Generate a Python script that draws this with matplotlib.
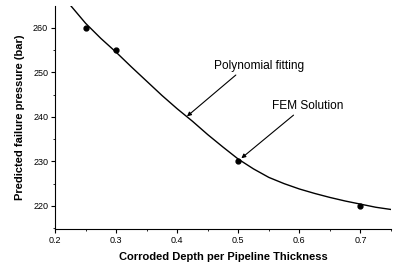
import matplotlib
matplotlib.use("Agg")
import matplotlib.pyplot as plt
from matplotlib.ticker import MultipleLocator

plt.rcParams['font.family'] = ['Liberation Sans', 'DejaVu Sans']

# FEM solution points
fem_depth = [0.25, 0.3, 0.5, 0.7]
fem_pressure = [260, 255, 230, 220]

# polynomial fitting curve
fit_depth = [0.226, 0.25, 0.275, 0.3, 0.325, 0.35, 0.375, 0.4, 0.425, 0.45, 0.475,
             0.5, 0.525, 0.55, 0.575, 0.6, 0.625, 0.65, 0.675, 0.7, 0.725, 0.75]
fit_pressure = [264.9, 261.0, 257.6, 254.5, 251.2, 248.0, 244.8, 241.8, 239.0, 236.0, 233.2,
                230.5, 228.3, 226.4, 225.0, 223.8, 222.8, 221.9, 221.1, 220.4, 219.7, 219.2]

xticks = [0.2, 0.3, 0.4, 0.5, 0.6, 0.7]
yticks = [220, 230, 240, 250, 260]

fig = plt.figure(figsize=(3.93, 2.67), dpi=100)
ax = fig.add_axes([0.140, 0.142, 0.855, 0.836])

ax.plot(fit_depth, fit_pressure, color='black', lw=1.0)
ax.plot(fem_depth, fem_pressure, 'o', color='black', ms=3.5)

ax.set_xlim(0.2, 0.75)
ax.set_ylim(214.8, 264.9)
ax.set_xticks(xticks)
ax.set_xticklabels([str(t) for t in xticks])
ax.set_yticks(yticks)
ax.xaxis.set_minor_locator(MultipleLocator(0.05))
ax.yaxis.set_minor_locator(MultipleLocator(5))
ax.tick_params(which='major', direction='out', length=3, width=0.8, labelsize=6.5, pad=2)
ax.tick_params(which='minor', direction='out', length=1.5, width=0.6)
ax.spines['top'].set_visible(False)
ax.spines['right'].set_visible(False)

ax.set_xlabel('Corroded Depth per Pipeline Thickness', fontsize=8, fontweight='bold', labelpad=5)
ax.set_ylabel('Predicted failure pressure (bar)', fontsize=8, fontweight='bold', labelpad=6)

ax.annotate('Polynomial fitting', xy=(0.416, 240.1), xytext=(0.46, 250.0),
            fontsize=8.6, ha='left', va='bottom',
            arrowprops=dict(arrowstyle='-|>', color='black', lw=0.8, mutation_scale=6,
                            shrinkA=0, shrinkB=0, relpos=(0.28, 0)))
ax.annotate('FEM Solution', xy=(0.505, 230.7), xytext=(0.555, 241.0),
            fontsize=8.6, ha='left', va='bottom',
            arrowprops=dict(arrowstyle='-|>', color='black', lw=0.8, mutation_scale=6,
                            shrinkA=0, shrinkB=0, relpos=(0.35, 0)))

fig.savefig('out.png', dpi=100)
